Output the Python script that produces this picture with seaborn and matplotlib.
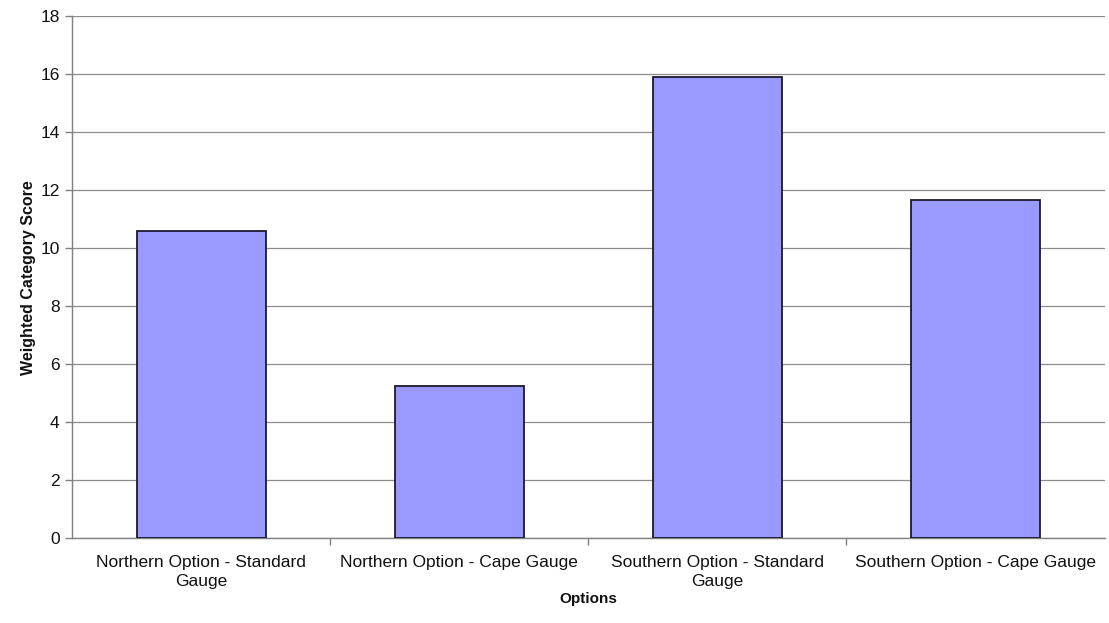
import matplotlib
matplotlib.use("Agg")
import matplotlib.pyplot as plt
import seaborn as sns
import pandas as pd
from matplotlib.ticker import FixedLocator, MultipleLocator

categories = ["Northern Option - Standard\nGauge", "Northern Option - Cape Gauge",
              "Southern Option - Standard\nGauge", "Southern Option - Cape Gauge"]
scores = [10.58, 5.24, 15.9, 11.66]

sns.set_theme(style="white")
plt.rcParams['font.family'] = ['Liberation Sans', 'DejaVu Sans']
plt.rcParams['text.color'] = '#111111'
plt.rcParams['axes.labelcolor'] = '#111111'
plt.rcParams['xtick.labelcolor'] = '#111111'
plt.rcParams['ytick.labelcolor'] = '#111111'

df = pd.DataFrame({"Options": categories, "Score": scores})

fig = plt.figure(figsize=(11.09, 6.23), dpi=100)
ax = fig.add_axes([0.065, 0.136, 0.931, 0.838])

sns.barplot(data=df, x="Options", y="Score", color="#9999FF", saturation=1,
            width=0.5, edgecolor="#1a1a2e", linewidth=1.3, ax=ax, zorder=3)

ax.set_ylim(0, 18)
ax.set_xlim(-0.5, 3.5)
ax.yaxis.set_major_locator(MultipleLocator(2))
ax.grid(axis="y", color="#8c8c8c", linewidth=0.9, zorder=0)
ax.set_axisbelow(True)

for s in ["top", "right"]:
    ax.spines[s].set_visible(False)
for s in ["left", "bottom"]:
    ax.spines[s].set_color("#808080")
    ax.spines[s].set_linewidth(1.0)

ax.set_xticks(range(len(categories)))
ax.set_xticklabels(categories, linespacing=1.35, ha="center", multialignment="center")
ax.tick_params(axis="y", which="major", direction="out", length=5, width=1,
               color="#808080", labelsize=12.5, pad=4, left=True)
ax.tick_params(axis="x", which="major", length=0, labelsize=12.5, pad=12)
ax.xaxis.set_minor_locator(FixedLocator([0.5, 1.5, 2.5]))
ax.tick_params(axis="x", which="minor", direction="out", length=5, width=1,
               color="#808080", bottom=True)

ax.set_xlabel("Options", fontsize=11, fontweight="bold", labelpad=2)
ax.set_ylabel("Weighted Category Score", fontsize=11.5, fontweight="bold", labelpad=3)

fig.savefig("out.png", dpi=100, facecolor="white")
